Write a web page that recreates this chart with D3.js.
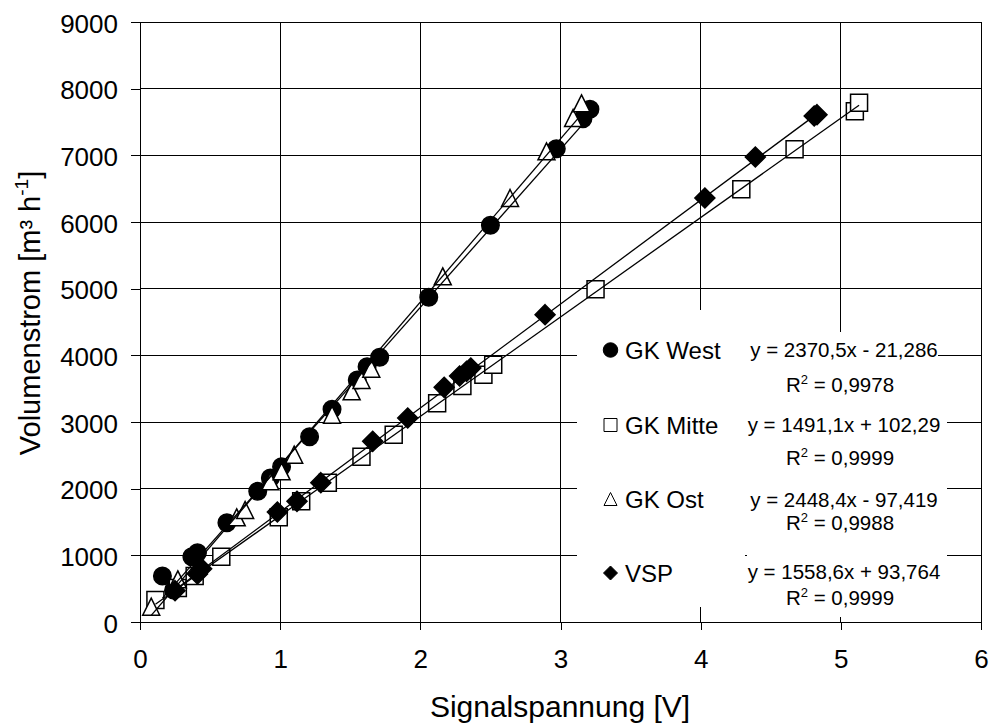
<!DOCTYPE html>
<html>
<head>
<meta charset="utf-8">
<script src="https://cdn.jsdelivr.net/npm/d3@7/dist/d3.min.js"></script>
<style>
  html, body { margin: 0; padding: 0; background: #fff; }
  svg { display: block; }
  text { font-family: Arial, "Liberation Sans", sans-serif; fill: #000; }
</style>
</head>
<body>
<svg id="chart" width="989" height="724"></svg>
<script>
// Measured calibration points: signal voltage [V] vs. volume flow [m³/h]
const seriesNames = ["GK West", "GK Mitte", "GK Ost", "VSP"];

const gkWestX = [0.16, 0.24, 0.37, 0.41, 0.62, 0.84, 0.93, 1.01, 1.21, 1.37, 1.55, 1.62, 1.71, 2.06, 2.50, 2.97, 3.16, 3.21];
const gkWestY = [690, 480, 980, 1040, 1490, 1960, 2160, 2330, 2780, 3190, 3630, 3830, 3970, 4870, 5950, 7100, 7550, 7690];

const gkMitteX = [0.11, 0.27, 0.39, 0.58, 0.99, 1.15, 1.34, 1.58, 1.81, 2.12, 2.30, 2.45, 2.52, 3.25, 4.29, 4.67, 5.10, 5.13];
const gkMitteY = [330, 510, 690, 980, 1570, 1810, 2090, 2480, 2810, 3280, 3540, 3710, 3860, 4990, 6490, 7090, 7660, 7790];

const gkOstX = [0.08, 0.27, 0.69, 0.75, 0.93, 1.01, 1.10, 1.37, 1.51, 1.58, 1.65, 2.16, 2.64, 2.90, 3.09, 3.15];
const gkOstY = [230, 640, 1570, 1680, 2110, 2260, 2510, 3110, 3460, 3630, 3800, 5185, 6360, 7060, 7560, 7780];

const vspX = [0.25, 0.41, 0.44, 0.98, 1.12, 1.29, 1.66, 1.91, 2.17, 2.28, 2.33, 2.36, 2.89, 4.03, 4.39, 4.81, 4.83];
const vspY = [470, 720, 800, 1650, 1810, 2090, 2710, 3060, 3520, 3690, 3760, 3810, 4610, 6360, 6975, 7590, 7610];

// Linear regression results per series
const slopes = [2370.5, 1491.1, 2448.4, 1558.6];
const intercepts = [-21.286, 102.29, -97.419, 93.764];
const rSquared = [0.9978, 0.9999, 0.9988, 0.9999];

const xTicks = [0, 1, 2, 3, 4, 5, 6];
const yTicks = [0, 1000, 2000, 3000, 4000, 5000, 6000, 7000, 8000, 9000];

const xTitle = "Signalspannung [V]";

// ---------------------------------------------------------------------------
const svg = d3.select("#chart");
const x = d3.scaleLinear().domain([0, 6]).range([140, 981]);
const y = d3.scaleLinear().domain([0, 9000]).range([622, 22]);

const seriesX = [gkWestX, gkMitteX, gkOstX, vspX];
const seriesY = [gkWestY, gkMitteY, gkOstY, vspY];
const shapes = ["circle", "square", "triangle", "diamond"];

// gridlines
const grid = svg.append("g").attr("shape-rendering", "crispEdges");
grid.selectAll("line.h").data(yTicks.slice(1)).join("line")
  .attr("x1", x(0)).attr("x2", x(6))
  .attr("y1", d => y(d)).attr("y2", d => y(d))
  .attr("stroke", "#000").attr("stroke-width", 1);
grid.selectAll("line.v").data(xTicks.slice(1)).join("line")
  .attr("x1", d => x(d)).attr("x2", d => x(d))
  .attr("y1", y(0)).attr("y2", y(9000))
  .attr("stroke", "#000").attr("stroke-width", 1);

// axes
const fmt = d => String(d);
const yAxis = svg.append("g").attr("transform", `translate(${x(0)},0)`)
  .call(d3.axisLeft(y).tickValues(yTicks).tickFormat(fmt).tickSize(9).tickPadding(13));
const xAxis = svg.append("g").attr("transform", `translate(0,${y(0)})`)
  .call(d3.axisBottom(x).tickValues(xTicks).tickFormat(fmt).tickSize(8).tickPadding(20));
[xAxis, yAxis].forEach(a => {
  a.select(".domain").attr("stroke", "#000").attr("shape-rendering", "crispEdges");
  a.selectAll(".tick line").attr("stroke", "#000").attr("shape-rendering", "crispEdges");
  a.selectAll("text").attr("font-size", 26).attr("font-family", "Arial, 'Liberation Sans', sans-serif").attr("fill", "#000");
});
yAxis.selectAll("text").attr("dy", "0.39em");

// marker shapes
function markerPath(shape, s) {
  switch (shape) {
    case "circle": { const p = d3.path(); p.arc(0, 0, s / 2, 0, 2 * Math.PI); p.closePath(); return p.toString(); }
    case "square": return `M${-s/2},${-s/2}H${s/2}V${s/2}H${-s/2}Z`;
    case "triangle": return `M0,${-s/2}L${s/2},${s/2}L${-s/2},${s/2}Z`;
    case "diamond": return `M0,${-s/2}L${s/2},0L0,${s/2}L${-s/2},0Z`;
  }
}
const markerStyle = {
  circle:   { fill: "#000", stroke: "#000", size: 17.5 },
  square:   { fill: "#fff", stroke: "#000", size: 17 },
  triangle: { fill: "#fff", stroke: "#000", size: 17 },
  diamond:  { fill: "#000", stroke: "#000", size: 20 }
};

// data markers
seriesX.forEach((xs, i) => {
  const st = markerStyle[shapes[i]];
  svg.append("g").selectAll("path").data(xs.map((v, j) => [v, seriesY[i][j]])).join("path")
    .attr("transform", d => `translate(${x(d[0])},${y(d[1])})`)
    .attr("d", markerPath(shapes[i], st.size))
    .attr("fill", st.fill).attr("stroke", st.stroke).attr("stroke-width", 1.5);
});

// linear trendlines over each series' range
seriesX.forEach((xs, i) => {
  const [x0, x1] = d3.extent(xs);
  const f = v => slopes[i] * v + intercepts[i];
  svg.append("line")
    .attr("x1", x(x0)).attr("y1", y(f(x0)))
    .attr("x2", x(x1)).attr("y2", y(f(x1)))
    .attr("stroke", "#000").attr("stroke-width", 1.3);
});

// legend
const legendRows = [350, 425, 499, 573];
svg.append("rect").attr("x", 577).attr("y", 310).attr("width", 168).attr("height", 297).attr("fill", "#fff");
const legendSize = { circle: 14.5, square: 13, triangle: 13, diamond: 14 };
seriesNames.forEach((name, i) => {
  const st = markerStyle[shapes[i]];
  svg.append("path")
    .attr("transform", `translate(610.5,${legendRows[i]})`)
    .attr("d", markerPath(shapes[i], legendSize[shapes[i]]))
    .attr("fill", st.fill).attr("stroke", "#000").attr("stroke-width", 1);
  svg.append("text").attr("x", 625).attr("y", legendRows[i]).attr("dy", "0.36em")
    .attr("font-size", 24).text(name);
});

// trendline equations
const num = v => String(v).replace(".", ",");
const eqBoxes = [
  { x: 742, y: 332, w: 196, h: 72 },
  { x: 742, y: 404, w: 205, h: 72 },
  { x: 742, y: 476, w: 205, h: 70 },
  { x: 747, y: 546, w: 200, h: 71 }
];
const eqRows = [350, 425, 500, 572];
const r2Rows = [385, 458, 523, 598];
eqBoxes.forEach(b => svg.append("rect").attr("x", b.x).attr("y", b.y).attr("width", b.w).attr("height", b.h).attr("fill", "#fff"));
slopes.forEach((m, i) => {
  const b = intercepts[i];
  const eq = `y = ${num(m)}x ${b < 0 ? "-" : "+"} ${num(Math.abs(b))}`;
  svg.append("text").attr("x", 844).attr("y", eqRows[i] + 7.4)
    .attr("text-anchor", "middle").attr("font-size", 20.5).text(eq);
  const t = svg.append("text").attr("x", 840).attr("y", r2Rows[i] + 7.4)
    .attr("text-anchor", "middle").attr("font-size", 20.5);
  t.append("tspan").text("R");
  t.append("tspan").attr("font-size", 13).attr("dy", -8).text("2");
  t.append("tspan").attr("dy", 8).text(" = " + num(rSquared[i].toFixed(4)));
});

// axis titles
svg.append("text").attr("x", 560).attr("y", 717).attr("text-anchor", "middle")
  .attr("font-size", 30).text(xTitle);

const yt = svg.append("text").attr("transform", "translate(40,313) rotate(-90)")
  .attr("text-anchor", "middle").attr("font-size", 29);
yt.append("tspan").text("Volumenstrom [m³ h");
yt.append("tspan").attr("font-size", 19).attr("dy", -12).text("-1");
yt.append("tspan").attr("dy", 12).text("]");
</script>
</body>
</html>
